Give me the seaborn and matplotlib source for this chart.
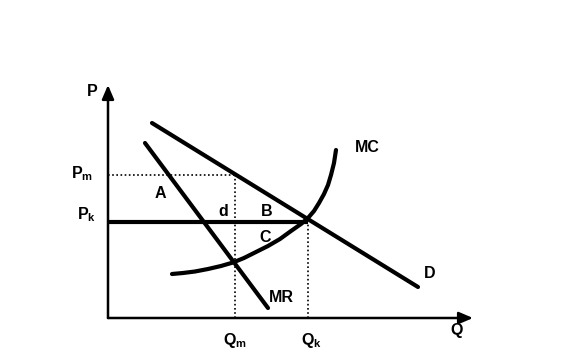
import numpy as np
import pandas as pd
import matplotlib
matplotlib.use('Agg')
import matplotlib.pyplot as plt
import seaborn as sns

# curve data (Q, P)
demand_q = [4.4, 31.0]
demand_p = [19.5, 3.1]
mr_q = [3.7, 16.0]
mr_p = [17.5, 1.0]
mc_q = [6.4, 7.5, 8.7, 10.0, 11.3, 12.5, 13.6, 14.8, 16.0, 17.2, 18.3, 19.3, 20.0,
        20.6, 21.1, 21.6, 22.0, 22.3, 22.6, 22.8]
mc_p = [4.4, 4.5, 4.65, 4.9, 5.2, 5.55, 6.0, 6.6, 7.2, 7.9, 8.7, 9.4, 10.0,
        10.7, 11.5, 12.4, 13.3, 14.3, 15.5, 16.8]

p_m, p_k = 14.3, 9.6
q_m, q_k = 12.7, 20.0
q_max, p_max = 36.5, 23.3

curve_labels = {'MC': (25.9, 17.0), 'D': (32.2, 4.5), 'MR': (17.3, 2.1)}
area_labels = {'A': (5.2, 12.5), 'd': (11.5, 10.6), 'B': (15.9, 10.6), 'C': (15.7, 8.1)}
axis_labels = {'P': (-1.6, 22.6), 'Q': (34.9, -1.3),
               r'P$_\mathbf{m}$': (-2.6, 14.4), r'P$_\mathbf{k}$': (-2.1, 10.3),
               r'Q$_\mathbf{m}$': (12.7, -2.3), r'Q$_\mathbf{k}$': (20.3, -2.3)}

sns.set_theme(style='white')
plt.rcParams['font.family'] = ['Liberation Sans', 'DejaVu Sans']
plt.rcParams['mathtext.fontset'] = 'custom'
plt.rcParams['mathtext.rm'] = 'Liberation Sans'
plt.rcParams['mathtext.bf'] = 'Liberation Sans:bold'

fig = plt.figure(figsize=(5.64, 3.57), dpi=100)
ax = fig.add_axes([0, 0, 1, 1])
ax.set_xlim(-10.8, 45.6)
ax.set_ylim(-3.9, 31.8)
ax.axis('off')

lw = 3.0
demand = pd.DataFrame({'Q': demand_q, 'P': demand_p})
mr = pd.DataFrame({'Q': mr_q, 'P': mr_p})
mc = pd.DataFrame({'Q': mc_q, 'P': mc_p})
sns.lineplot(data=demand, x='Q', y='P', color='black', lw=lw, sort=False, ax=ax)
sns.lineplot(data=mr, x='Q', y='P', color='black', lw=lw, sort=False, ax=ax)
sns.lineplot(data=mc, x='Q', y='P', color='black', lw=lw, sort=False, ax=ax)

# price ceiling line at Pk
ax.plot([0, q_k], [p_k, p_k], color='black', lw=lw, solid_capstyle='butt')

# dotted guides
dots = (0, (1, 1.5))
ax.plot([0, q_m], [p_m, p_m], color='black', lw=1.2, ls=dots)
ax.plot([q_m, q_m], [0, p_m], color='black', lw=1.2, ls=dots)
ax.plot([q_k, q_k], [0, p_k], color='black', lw=1.2, ls=dots)

# axes with arrows
arrow = dict(arrowstyle='-|>,head_length=0.7,head_width=0.3', lw=1.8, color='black',
             shrinkA=0, shrinkB=0)
ax.annotate('', xy=(0, p_max), xytext=(0, 0), arrowprops=arrow)
ax.annotate('', xy=(q_max, 0), xytext=(0, 0), arrowprops=arrow)

for txt, (x, y) in {**curve_labels, **area_labels, **axis_labels}.items():
    ax.text(x, y, txt, ha='center', va='center', fontsize=11.5, fontweight='bold',
            color='black')

fig.savefig('out.png', dpi=100)
